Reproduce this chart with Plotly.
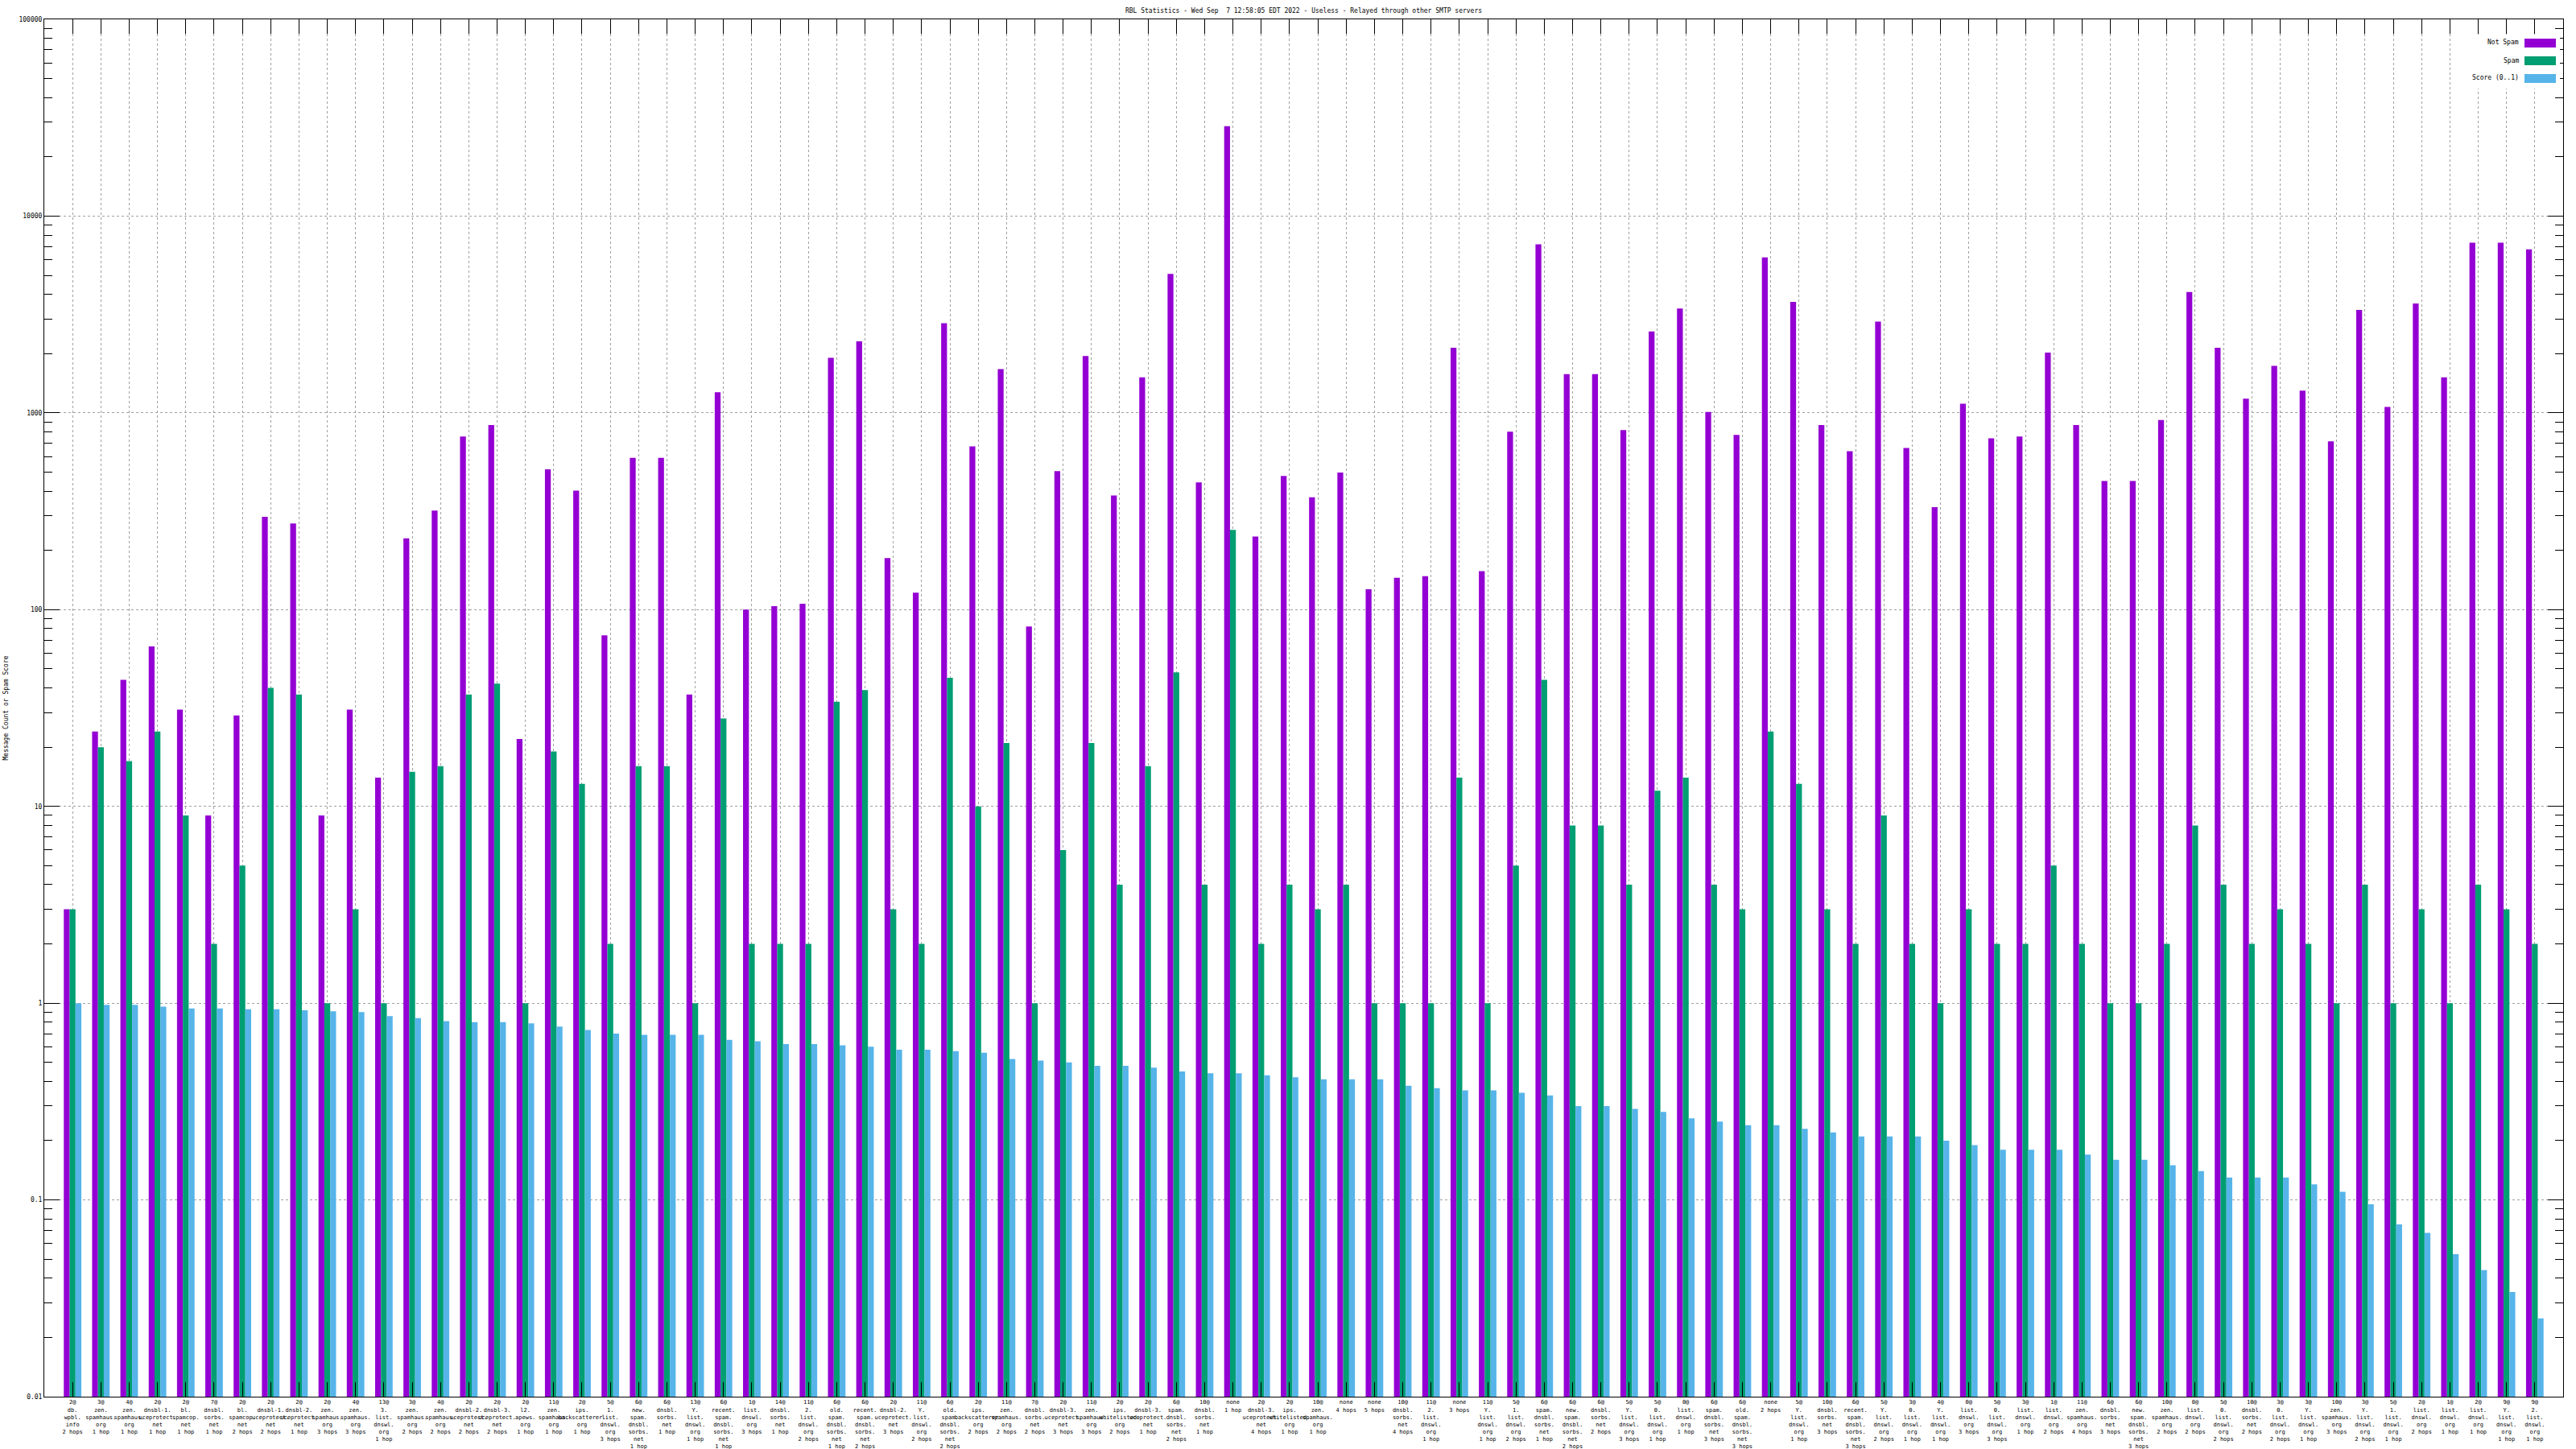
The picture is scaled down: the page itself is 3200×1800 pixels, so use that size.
import plotly.graph_objects as go

# ---------------- data ----------------
weights = ["2","3","4","2","2","7","2","2","2","2","4","13","3","4","2","2",
           "2","11","2","5","6","6","13","6","1","14","11","6","6","2","11",
           "6","2","11","7","2","11","2","2","6","10","none","2","2","10","none","none",
           "10","11","none","11","5","6","6","6","5","5","0","6","6","none",
           "5","10","6","5","3","4","0","5","3","1","11","6","6","10",
           "0","5","10","3","3","10","3","5","2","1","2","9","9"]

hosts = ["db.wpbl.info","zen.spamhaus.org","zen.spamhaus.org","dnsbl-1.uceprotect.net",
         "bl.spamcop.net","dnsbl.sorbs.net","bl.spamcop.net","dnsbl-1.uceprotect.net",
         "dnsbl-2.uceprotect.net","zen.spamhaus.org","zen.spamhaus.org","3.list.dnswl.org",
         "zen.spamhaus.org","zen.spamhaus.org","dnsbl-2.uceprotect.net","dnsbl-3.uceprotect.net",
         "l2.apews.org","zen.spamhaus.org","ips.backscatterer.org","1.list.dnswl.org",
         "new.spam.dnsbl.sorbs.net","dnsbl.sorbs.net","Y.list.dnswl.org","recent.spam.dnsbl.sorbs.net",
         "list.dnswl.org","dnsbl.sorbs.net","2.list.dnswl.org","old.spam.dnsbl.sorbs.net",
         "recent.spam.dnsbl.sorbs.net","dnsbl-2.uceprotect.net","Y.list.dnswl.org",
         "old.spam.dnsbl.sorbs.net","ips.backscatterer.org","zen.spamhaus.org","dnsbl.sorbs.net",
         "dnsbl-3.uceprotect.net","zen.spamhaus.org","ips.whitelisted.org","dnsbl-3.uceprotect.net",
         "spam.dnsbl.sorbs.net","dnsbl.sorbs.net","","dnsbl-3.uceprotect.net","ips.whitelisted.org",
         "zen.spamhaus.org","","",
         "dnsbl.sorbs.net","2.list.dnswl.org","","Y.list.dnswl.org","1.list.dnswl.org",
         "spam.dnsbl.sorbs.net","new.spam.dnsbl.sorbs.net","dnsbl.sorbs.net","Y.list.dnswl.org",
         "0.list.dnswl.org","list.dnswl.org","spam.dnsbl.sorbs.net","old.spam.dnsbl.sorbs.net","",
         "Y.list.dnswl.org","dnsbl.sorbs.net","recent.spam.dnsbl.sorbs.net","Y.list.dnswl.org",
         "0.list.dnswl.org","Y.list.dnswl.org","list.dnswl.org","0.list.dnswl.org","list.dnswl.org",
         "list.dnswl.org","zen.spamhaus.org","dnsbl.sorbs.net","new.spam.dnsbl.sorbs.net",
         "zen.spamhaus.org",
         "list.dnswl.org","0.list.dnswl.org","dnsbl.sorbs.net","0.list.dnswl.org","Y.list.dnswl.org",
         "zen.spamhaus.org","Y.list.dnswl.org","1.list.dnswl.org","list.dnswl.org","list.dnswl.org",
         "list.dnswl.org","Y.list.dnswl.org","2.list.dnswl.org"]

hops = [2,1,1,1,1,1,2,2,1,3,3,1,2,2,2,2,
        1,1,1,3,1,1,1,1,3,1,2,1,2,3,2,
        2,2,2,2,3,3,2,1,2,1,1,4,1,1,4,5,
        4,1,3,1,2,1,2,2,3,1,1,3,3,2,
        1,3,3,2,1,1,3,3,1,2,4,3,3,2,
        2,2,2,2,1,3,2,1,2,1,1,1,1]

not_spam = [3,24,44,65,31,9,29,296,274,9,
            31,14,230,319,759,868,22,516,402,74,
            590,590,37,1274,100,104,107,1906,2312,183,
            122,2856,676,1668,82,506,1945,380,1514,5086,
            443,28650,235,478,372,497,127,145,148,2142,
            157,803,7180,1573,1573,818,2594,3394,1011,773,
            6164,3665,868,638,2911,663,332,1114,743,759,
            2023,868,451,451,919,4113,2142,1180,1734,1298,
            716,3334,1072,3596,1514,7328,7328,6776]

spam = [3,20,17,24,9,2,5,40,37,1,
        3,1,15,16,37,42,1,19,13,2,
        16,16,1,28,2,2,2,34,39,3,
        2,45,10,21,1,6,21,4,16,48,
        4,254,2,4,3,4,1,1,1,14,
        1,5,44,8,8,4,12,14,4,3,
        24,13,3,2,9,2,1,3,2,2,
        5,2,1,1,2,8,4,2,3,2,
        1,4,1,3,1,4,3,2]

score = [1.0,0.98,0.98,0.96,0.94,0.94,0.93,0.93,0.92,0.91,
         0.90,0.86,0.84,0.81,0.80,0.80,0.79,0.76,0.73,0.70,
         0.69,0.69,0.69,0.65,0.64,0.62,0.62,0.61,0.60,0.58,
         0.58,0.57,0.56,0.52,0.51,0.50,0.48,0.48,0.47,0.45,
         0.44,0.44,0.43,0.42,0.41,0.41,0.41,0.38,0.37,0.36,
         0.36,0.35,0.34,0.30,0.30,0.29,0.28,0.26,0.25,0.24,
         0.24,0.23,0.22,0.21,0.21,0.21,0.20,0.19,0.18,0.18,
         0.18,0.17,0.16,0.16,0.15,0.14,0.13,0.13,0.13,0.12,
         0.11,0.095,0.075,0.068,0.053,0.044,0.034,0.025]

series_names = ["Not Spam", "Spam", "Score (0..1)"]
series_colors = ["#9400D3", "#009E73", "#56B4E9"]

y_tick_vals = [0.01, 0.1, 1, 10, 100, 1000, 10000, 100000]
y_tick_text = ["0.01", "0.1", "1", "10", "100", "1000", "10000", "100000"]

title_text = "RBL Statistics - Wed Sep\u00a0\u00a07 12:58:05 EDT 2022 - Useless - Relayed through other SMTP servers"
y_title = "Message Count or Spam Score"


def make_label(w, h, n):
    hop = f"{n} hop" if n == 1 else f"{n} hops"
    if w == "none":
        return "none<br>" + hop
    parts = h.split(".")
    lines = [w + "@"] + [p + "." for p in parts[:-1]] + [parts[-1], hop]
    return "<br>".join(lines)


labels = [make_label(w, h, n) for w, h, n in zip(weights, hosts, hops)]
xs = list(range(len(labels)))

FONT = "DejaVu Sans Mono"
W, H = 3200, 1800
ML, MR, MT, MB = 55, 16, 24, 65
PW = W - ML - MR
PH = H - MT - MB

fig = go.Figure()
for name, vals, col in zip(series_names, [not_spam, spam, score], series_colors):
    fig.add_trace(go.Bar(x=xs, y=vals, name=name, marker=dict(color=col, line=dict(width=0)),
                         showlegend=False))

minor_vals = [k * 10 ** e for e in range(-2, 5) for k in range(2, 10)]

fig.update_layout(
    width=W, height=H,
    margin=dict(l=ML, r=MR, t=MT, b=MB),
    paper_bgcolor="white", plot_bgcolor="white",
    barmode="group", bargap=0.38, bargroupgap=0,
    font=dict(family=FONT, size=8, color="black"),
    title=dict(text=title_text, x=0.5, xref="paper", xanchor="center",
               y=1 - 13 / H, yref="container", yanchor="middle",
               font=dict(family=FONT, size=8, color="black")),
    xaxis=dict(range=[-1, len(labels)], tickmode="array", tickvals=xs, ticktext=labels,
               tickangle=0, ticks="inside", ticklen=18, tickcolor="black", tickwidth=1,
               showline=True, linecolor="black", linewidth=1, mirror="allticks",
               showgrid=True, gridcolor="#a0a0a0", griddash="3px,3px", gridwidth=1,
               zeroline=False, automargin=False,
               tickfont=dict(family=FONT, size=7, color="black")),
    yaxis=dict(type="log", range=[-2, 5], tickmode="array", tickvals=y_tick_vals,
               ticktext=y_tick_text, ticks="inside", ticklen=19, tickcolor="black",
               showline=True, linecolor="black", linewidth=1, mirror="allticks",
               showgrid=True, gridcolor="#a0a0a0", griddash="3px,3px", gridwidth=1,
               zeroline=False, automargin=False,
               minor=dict(tickvals=minor_vals, ticks="inside", ticklen=10,
                          tickcolor="black", showgrid=False),
               tickfont=dict(family=FONT, size=8, color="black")),
)

# y axis title
fig.add_annotation(text=y_title, textangle=-90, xref="paper", yref="paper",
                   x=(7 - ML) / PW, y=0.5, xanchor="center", yanchor="middle",
                   showarrow=False, font=dict(family=FONT, size=8, color="black"))


# legend (gnuplot style: text left, swatch right)
def px_x(p):
    return (p - ML) / PW


def px_y(p):
    return (H - MB - p) / PH


fig.add_shape(type="rect", xref="paper", yref="paper",
              x0=px_x(3045), x1=px_x(3180), y0=px_y(110), y1=px_y(43),
              fillcolor="white", line=dict(width=0), layer="above")
for i, (name, col) in enumerate(zip(series_names, series_colors)):
    yc = 53 + 22 * i
    fig.add_shape(type="rect", xref="paper", yref="paper",
                  x0=px_x(3136), x1=px_x(3175), y0=px_y(yc + 6), y1=px_y(yc - 5),
                  fillcolor=col, line=dict(width=0), layer="above")
    fig.add_annotation(text=name, xref="paper", yref="paper", x=px_x(3131), y=px_y(yc),
                       xanchor="right", yanchor="middle", showarrow=False,
                       font=dict(family=FONT, size=8, color="black"))

fig.write_html("out.html",
               config={"displayModeBar": False},
               post_script="document.body.style.margin='0';document.body.style.overflow='hidden';")
